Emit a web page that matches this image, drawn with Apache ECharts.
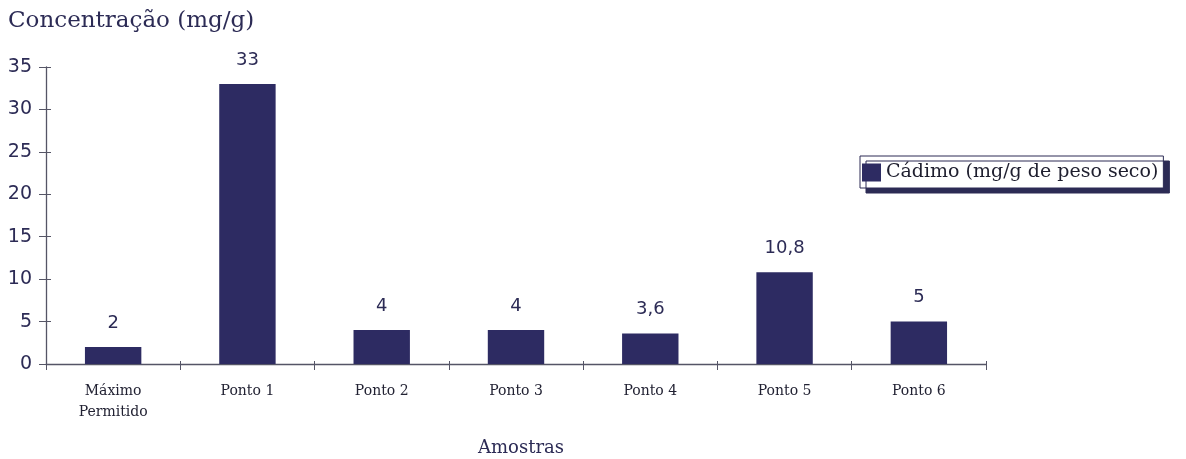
<!DOCTYPE html>
<html>
<head>
<meta charset="utf-8">
<script src="https://cdn.jsdelivr.net/npm/echarts@6/dist/echarts.min.js"></script>
<style>
  html, body { margin: 0; padding: 0; background: #ffffff; }
  #chart { width: 1186px; height: 459px; }
</style>
</head>
<body>
<div id="chart"></div>
<script>
// Cadmium concentration per sampling point
const categories = ['Máximo\nPermitido', 'Ponto 1', 'Ponto 2', 'Ponto 3', 'Ponto 4', 'Ponto 5', 'Ponto 6'];
const cadmio = [2, 33, 4, 4, 3.6, 10.8, 5];
const yTicks = [0, 5, 10, 15, 20, 25, 30, 35];

const ink = '#2c2b55';
const barColor = '#2d2b62';
const serif = '"DejaVu Serif", "Liberation Serif", serif';
const sans = '"DejaVu Sans", "Liberation Sans", Arial, sans-serif';

const chart = echarts.init(document.getElementById('chart'));
chart.setOption({
  backgroundColor: '#ffffff',
  animation: false,
  title: [
    { text: 'Concentração (mg/g)', left: 3, top: 5,
      textStyle: { fontFamily: serif, fontSize: 23, fontWeight: 'normal', color: ink } },
    { text: 'Amostras', left: 516, top: 434, textAlign: 'center',
      textStyle: { fontFamily: serif, fontSize: 18, fontWeight: 'normal', color: ink } }
  ],
  legend: {
    left: 860, top: 156,
    padding: [7, 5, 6, 2],
    itemWidth: 19, itemHeight: 18,
    icon: 'rect',
    backgroundColor: '#ffffff',
    borderColor: ink, borderWidth: 1,
    shadowColor: ink, shadowBlur: 0, shadowOffsetX: 6, shadowOffsetY: 5,
    textStyle: { fontFamily: serif, fontSize: 19, color: '#1e1e2e' },
    data: ['Cádimo (mg/g de peso seco)']
  },
  grid: { left: 46, right: 200, top: 67, bottom: 95 },
  xAxis: [
    {
      type: 'category', data: categories,
      axisLine: { lineStyle: { color: '#555566', width: 1.3 } },
      axisTick: { show: true, length: 6, lineStyle: { color: '#555566' } },
      axisLabel: { fontFamily: serif, fontSize: 14, color: '#222233', margin: 17, lineHeight: 21, interval: 0 }
    },
    {
      type: 'category', data: categories, position: 'bottom',
      axisLine: { show: false },
      axisTick: { show: true, inside: true, length: 3, lineStyle: { color: '#555566' } },
      axisLabel: { show: false }
    }
  ],
  yAxis: [
    {
      type: 'value', min: 0, max: 35, interval: 5,
      axisLine: { show: true, lineStyle: { color: '#555566', width: 1.3 } },
      axisTick: { show: true, length: 7, lineStyle: { color: '#555566' } },
      axisLabel: { fontFamily: sans, fontSize: 19, color: ink, margin: 14,
        formatter: v => yTicks.includes(v) ? String(v) : '' },
      splitLine: { show: false }
    },
    {
      type: 'value', min: 0, max: 35, interval: 5, position: 'left',
      axisLine: { show: false },
      axisTick: { show: true, inside: true, length: 5, lineStyle: { color: '#555566' } },
      axisLabel: { show: false },
      splitLine: { show: false }
    }
  ],
  series: [{
    name: 'Cádimo (mg/g de peso seco)',
    type: 'bar',
    data: cadmio,
    barWidth: '42%',
    itemStyle: { color: barColor },
    label: {
      show: true, position: 'top', distance: 15,
      fontFamily: sans, fontSize: 18, color: ink,
      formatter: p => String(p.value).replace('.', ',')
    }
  }]
});
</script>
</body>
</html>
